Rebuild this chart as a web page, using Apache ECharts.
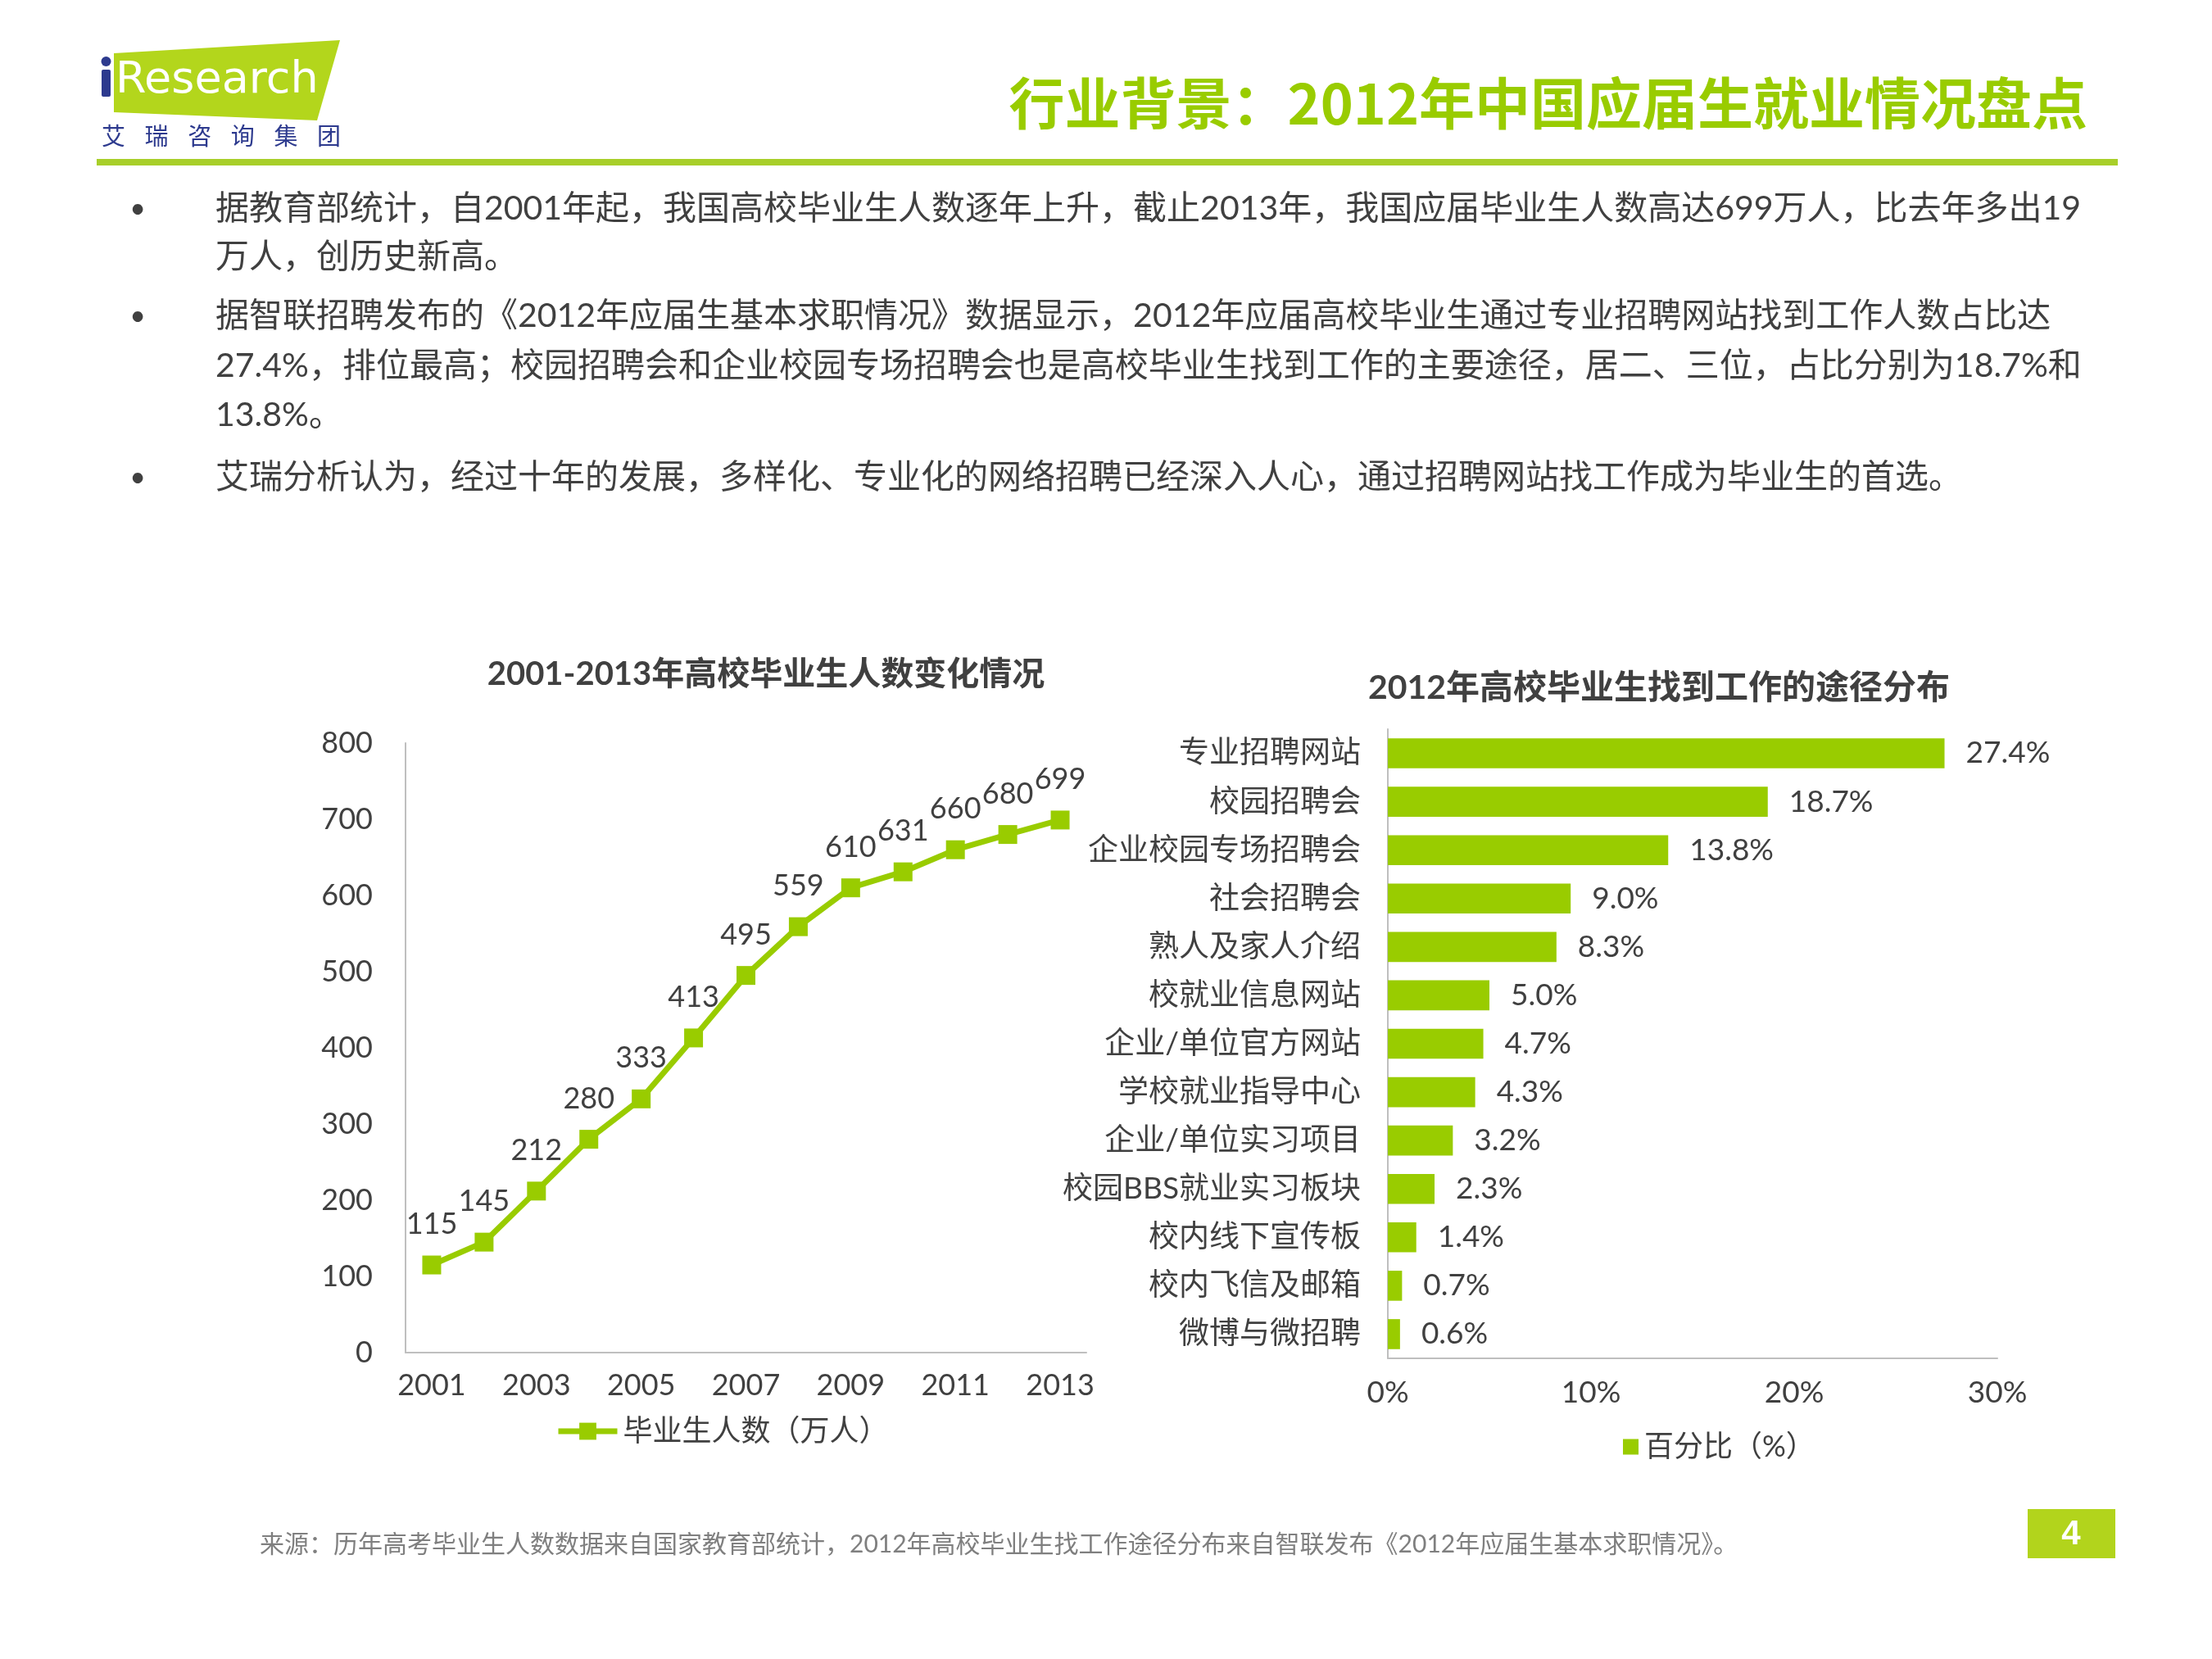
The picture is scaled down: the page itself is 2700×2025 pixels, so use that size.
<!DOCTYPE html>
<html>
<head>
<meta charset="utf-8">
<title>行业背景：2012年中国应届生就业情况盘点</title>
<script src="https://cdn.jsdelivr.net/npm/echarts@6/dist/echarts.min.js"></script>
<style>
  html, body { margin: 0; padding: 0; background: #fff; }
  #main { width: 2700px; height: 2025px; }
</style>
</head>
<body>
<div id="main"></div>
<script>
// 左图：2001-2013年高校毕业生人数（万人）
var years = ['2001', '2002', '2003', '2004', '2005', '2006', '2007', '2008', '2009', '2010', '2011', '2012', '2013'];
var graduates = [115, 145, 212, 280, 333, 413, 495, 559, 610, 631, 660, 680, 699];

// 右图：2012年高校毕业生找到工作的途径分布（%）
var channels = ['专业招聘网站', '校园招聘会', '企业校园专场招聘会', '社会招聘会', '熟人及家人介绍', '校就业信息网站',
  '企业/单位官方网站', '学校就业指导中心', '企业/单位实习项目', '校园BBS就业实习板块', '校内线下宣传板', '校内飞信及邮箱', '微博与微招聘'];
var shares = [27.4, 18.7, 13.8, 9.0, 8.3, 5.0, 4.7, 4.3, 3.2, 2.3, 1.4, 0.7, 0.6];

// 页面文字
var bulletLines = [
  '据教育部统计，自2001年起，我国高校毕业生人数逐年上升，截止2013年，我国应届毕业生人数高达699万人，比去年多出19',
  '万人，创历史新高。',
  '据智联招聘发布的《2012年应届生基本求职情况》数据显示，2012年应届高校毕业生通过专业招聘网站找到工作人数占比达',
  '27.4%，排位最高；校园招聘会和企业校园专场招聘会也是高校毕业生找到工作的主要途径，居二、三位，占比分别为18.7%和',
  '13.8%。',
  '艾瑞分析认为，经过十年的发展，多样化、专业化的网络招聘已经深入人心，通过招聘网站找工作成为毕业生的首选。'
];
var bulletLineY = [255, 314, 386, 447, 507, 583];
var bulletStarts = [0, 2, 5];
var logoChars = ['艾', '瑞', '咨', '询', '集', '团'];

var FONT = 'Lato, "Noto Sans CJK SC", sans-serif';
var GREEN = '#99cc00';
var TEXT = '#404040';
var AXIS = '#bfbfbf';

function $each(arr, fn) {
  for (var i = 0; i < arr.length; i++) fn(i, arr[i]);
}

var myChart = echarts.init(document.getElementById('main'));

//页面上的图形和文字
var graphics = [];
graphics.push({
  type: 'polygon',
  shape: { points: [[139, 65], [415, 49], [387, 147], [139, 137]] },
  style: { fill: '#b3d61c' }
});
graphics.push({ type: 'rect', shape: { x: 124, y: 85, width: 11, height: 33, r: 2 }, style: { fill: '#2d3a8e' } });
graphics.push({ type: 'circle', shape: { cx: 129.5, cy: 75, r: 6 }, style: { fill: '#2d3a8e' } });
graphics.push({
  type: 'text', x: 141, y: 99,
  style: { text: 'Research', font: '54px "DejaVu Sans", sans-serif', fill: '#fff', align: 'left', verticalAlign: 'middle' }
});
$each(logoChars, function (i, c) {
  graphics.push({
    type: 'text', x: 124 + i * 52.6, y: 166,
    style: { text: c, font: '29px "Noto Sans CJK SC"', fill: '#2d3a8e', align: 'left', verticalAlign: 'middle' }
  });
});
graphics.push({
  type: 'text', x: 2548, y: 126,
  style: { text: '行业背景：2012年中国应届生就业情况盘点', font: 'bold 68px "Noto Sans CJK SC"', fill: GREEN, align: 'right', verticalAlign: 'middle' }
});
graphics.push({ type: 'rect', shape: { x: 118, y: 194, width: 2467, height: 8 }, style: { fill: '#a8cf2a' } });

$each(bulletLines, function (i, line) {
  graphics.push({
    type: 'text', x: 263, y: bulletLineY[i],
    style: { text: line, font: '41px ' + FONT, fill: TEXT, align: 'left', verticalAlign: 'middle' }
  });
});
$each(bulletStarts, function (i, idx) {
  graphics.push({
    type: 'text', x: 168, y: bulletLineY[idx],
    style: { text: '•', font: '34px ' + FONT, fill: TEXT, align: 'center', verticalAlign: 'middle' }
  });
});

graphics.push({
  type: 'text', x: 317, y: 1885,
  style: { text: '来源：历年高考毕业生人数数据来自国家教育部统计，2012年高校毕业生找工作途径分布来自智联发布《2012年应届生基本求职情况》。',
    font: '30px ' + FONT, fill: '#7f7f7f', align: 'left', verticalAlign: 'middle' }
});
graphics.push({ type: 'rect', shape: { x: 2475, y: 1842, width: 107, height: 60 }, style: { fill: '#b2d41c' } });
graphics.push({
  type: 'text', x: 2528, y: 1873,
  style: { text: '4', font: 'bold 42px "Liberation Sans", sans-serif', fill: '#fff', align: 'center', verticalAlign: 'middle' }
});

var option = {
  backgroundColor: '#fff',
  animation: false,
  textStyle: { fontFamily: FONT, color: TEXT },
  title: [
    { text: '2001-2013年高校毕业生人数变化情况', left: 930, top: 798, textAlign: 'center',
      textStyle: { fontSize: 40, fontWeight: 'bold', color: TEXT, fontFamily: FONT } },
    { text: '2012年高校毕业生找到工作的途径分布', left: 2020, top: 814, textAlign: 'center',
      textStyle: { fontSize: 41, fontWeight: 'bold', color: TEXT, fontFamily: FONT } }
  ],
  legend: [
    { data: ['毕业生人数（万人）'], left: 673, top: 1724, itemWidth: 72, itemHeight: 26, itemGap: 10,
      lineStyle: { width: 7 },
      textStyle: { fontSize: 36, color: TEXT, fontFamily: FONT, padding: [0, 0, 0, 2] } },
    { data: ['百分比（%）'], left: 1976, top: 1743, icon: 'rect', itemWidth: 19, itemHeight: 19,
      textStyle: { fontSize: 36, color: TEXT, fontFamily: FONT, padding: [0, 0, 0, 2] } }
  ],
  grid: [
    { left: 495, top: 907, width: 831, height: 744 },
    { left: 1694, top: 890, width: 744, height: 768 }
  ],
  xAxis: [
    { type: 'category', gridIndex: 0, data: years, boundaryGap: true,
      axisLine: { lineStyle: { color: AXIS, width: 2 } }, axisTick: { show: false },
      axisLabel: { interval: 1, fontSize: 36, color: TEXT, margin: 22 } },
    { type: 'value', gridIndex: 1, min: 0, max: 30, interval: 10,
      axisLine: { show: true, lineStyle: { color: AXIS, width: 2 } }, axisTick: { show: false },
      splitLine: { show: false },
      axisLabel: { formatter: '{value}%', fontSize: 37, color: TEXT, margin: 24 } }
  ],
  yAxis: [
    { type: 'value', gridIndex: 0, min: 0, max: 800, interval: 100,
      axisLine: { show: true, lineStyle: { color: AXIS, width: 2 } }, axisTick: { show: false },
      splitLine: { show: false },
      axisLabel: { fontSize: 36, color: TEXT, margin: 40 } },
    { type: 'category', gridIndex: 1, data: channels, inverse: true,
      axisLine: { show: true, lineStyle: { color: AXIS, width: 2 } }, axisTick: { show: false },
      axisLabel: { fontSize: 37, color: TEXT, margin: 33 } }
  ],
  series: [
    { name: '毕业生人数（万人）', type: 'line', xAxisIndex: 0, yAxisIndex: 0, data: graduates,
      symbol: 'rect', symbolSize: 23,
      lineStyle: { color: GREEN, width: 7 }, itemStyle: { color: GREEN },
      label: { show: true, position: 'top', distance: 20, fontSize: 36, color: TEXT } },
    { name: '百分比（%）', type: 'bar', xAxisIndex: 1, yAxisIndex: 1, data: shares,
      barWidth: '62%', itemStyle: { color: GREEN },
      label: { show: true, position: 'right', distance: 26, fontSize: 37, color: TEXT,
        formatter: function (p) { return p.value.toFixed(1) + '%'; } } }
  ],
  graphic: graphics
};

myChart.setOption(option);
</script>
</body>
</html>
